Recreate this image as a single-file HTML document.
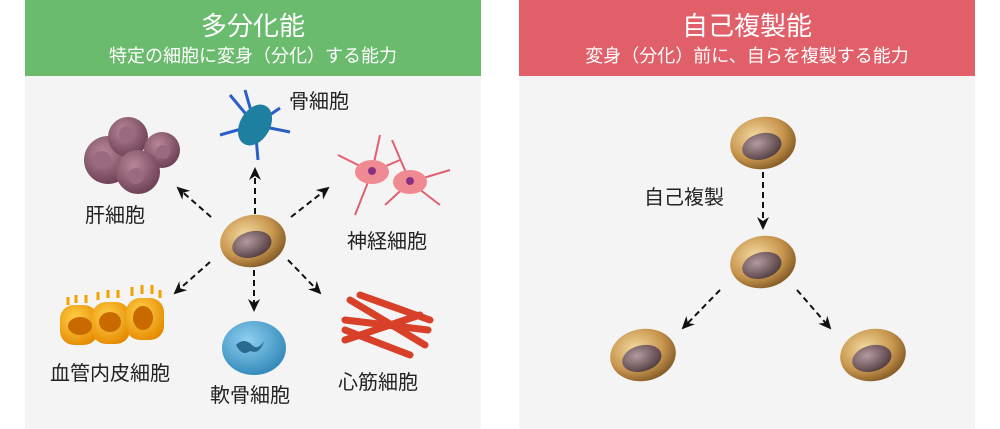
<!DOCTYPE html>
<html><head><meta charset="utf-8"><style>
body{margin:0;background:#fff;width:1000px;height:429px;overflow:hidden}
svg{display:block}
text{font-family:"Liberation Sans","Noto Sans CJK JP",sans-serif}
</style></head><body>
<svg width="1000" height="429" viewBox="0 0 1000 429">
<defs>
<radialGradient id="cell" cx="40%" cy="35%" r="70%"><stop offset="0" stop-color="#f3d9a0"/><stop offset="0.6" stop-color="#c9974f"/><stop offset="1" stop-color="#7d5522"/></radialGradient>
<radialGradient id="nuc" cx="40%" cy="35%" r="70%"><stop offset="0" stop-color="#b49aa0"/><stop offset="1" stop-color="#4e3a3c"/></radialGradient>
<radialGradient id="liv" cx="40%" cy="35%" r="70%"><stop offset="0" stop-color="#b9879a"/><stop offset="1" stop-color="#6a3d52"/></radialGradient>
<radialGradient id="blue" cx="40%" cy="35%" r="70%"><stop offset="0" stop-color="#8fd0f0"/><stop offset="1" stop-color="#2f86b8"/></radialGradient>
<radialGradient id="org" cx="40%" cy="35%" r="70%"><stop offset="0" stop-color="#ffd24a"/><stop offset="1" stop-color="#e58a00"/></radialGradient>
<marker id="ah" markerWidth="13" markerHeight="12" refX="11" refY="6" orient="auto" markerUnits="userSpaceOnUse"><path d="M0,0 L13,6 L0,12 L4,6z" fill="#111"/></marker>
<g id="sc"><ellipse cx="0" cy="0" rx="33" ry="26" fill="url(#cell)" transform="rotate(-10)"/><ellipse cx="-2" cy="3" rx="20" ry="13" fill="url(#nuc)" transform="rotate(-15)"/></g>
</defs>
<rect x="25" y="0" width="456" height="429" fill="#f4f4f4"/>
<rect x="25" y="0" width="456" height="76" fill="#6abb6e"/>
<text x="253" y="35" font-size="26" fill="#fff" text-anchor="middle">多分化能</text>
<text x="253" y="62" font-size="18" fill="#fff" text-anchor="middle">特定の細胞に変身（分化）する能力</text>
<rect x="519" y="0" width="456" height="429" fill="#f4f4f4"/>
<rect x="519" y="0" width="456" height="76" fill="#e15f69"/>
<text x="747" y="35" font-size="26" fill="#fff" text-anchor="middle">自己複製能</text>
<text x="747" y="62" font-size="18" fill="#fff" text-anchor="middle">変身（分化）前に、自らを複製する能力</text>

<g stroke="#111" stroke-width="2" stroke-dasharray="6,4" fill="none" marker-end="url(#ah)">
<line x1="255" y1="214" x2="255" y2="169"/>
<line x1="211" y1="217" x2="178" y2="188"/>
<line x1="291" y1="217" x2="328" y2="188"/>
<line x1="210" y1="262" x2="175" y2="293"/>
<line x1="254" y1="270" x2="254" y2="310"/>
<line x1="288" y1="260" x2="320" y2="293"/>
<line x1="763" y1="172" x2="763" y2="228"/>
<line x1="720" y1="290" x2="683" y2="328"/>
<line x1="797" y1="290" x2="830" y2="328"/>
</g>
<use href="#sc" x="253" y="241"/>
<use href="#sc" x="763" y="143"/>
<use href="#sc" x="763" y="262"/>
<use href="#sc" x="643" y="355"/>
<use href="#sc" x="873" y="355"/>

<g fill="url(#liv)"><circle cx="108" cy="160" r="24"/><circle cx="128" cy="137" r="20"/><circle cx="162" cy="150" r="18"/><circle cx="138" cy="172" r="22"/></g>
<g fill="#9a6a80"><circle cx="102" cy="160" r="9"/><circle cx="127" cy="134" r="8"/><circle cx="163" cy="152" r="7"/><circle cx="136" cy="176" r="8"/></g>
<g stroke="#2a5fc9" stroke-width="3" fill="none"><path d="M255 125 L230 95 M255 125 L280 108 M255 125 L220 135 M255 125 L290 132 M255 125 L258 160 M255 125 L245 90"/></g>
<ellipse cx="255" cy="125" rx="15" ry="22" fill="#1f7fa0" transform="rotate(30 255 125)"/>
<g stroke="#e06070" stroke-width="2" fill="none"><path d="M372 172 L338 155 M372 172 L380 135 M372 172 L355 215 M372 172 L400 160 M410 182 L392 140 M410 182 L450 170 M410 182 L440 205 M410 182 L385 205"/></g>
<ellipse cx="372" cy="172" rx="17" ry="12" fill="#f08a92"/><ellipse cx="410" cy="182" rx="17" ry="12" fill="#f08a92"/>
<circle cx="372" cy="171" r="4" fill="#8a3080"/><circle cx="410" cy="181" r="4" fill="#8a3080"/>
<g fill="url(#org)"><rect x="60" y="305" width="38" height="40" rx="14"/><rect x="92" y="302" width="38" height="42" rx="14"/><rect x="126" y="298" width="38" height="42" rx="14"/></g>
<g fill="#c96a00"><ellipse cx="80" cy="326" rx="12" ry="9"/><ellipse cx="110" cy="322" rx="11" ry="10"/><ellipse cx="143" cy="318" rx="10" ry="12"/></g>
<g stroke="#f3a000" stroke-width="3"><path d="M68 305v-8M76 303v-8M86 303v-8M98 300v-8M108 298v-8M118 298v-8M132 296v-9M142 294v-9M152 294v-9M160 298v-8"/></g>
<ellipse cx="254" cy="348" rx="32" ry="27" fill="url(#blue)"/>
<path d="M236 345 q8 -8 16 0 q6 6 12 -4 q-4 14 -14 10 q-8 6 -14 -6z" fill="#2a6a90"/>
<g stroke="#d9402a" stroke-width="7" stroke-linecap="round"><path d="M345 320 L428 330 M350 300 L425 345 M345 340 L420 315 M360 295 L430 320 M345 330 L410 355"/></g>

<g font-size="20" fill="#222">
<text x="289" y="108">骨細胞</text>
<text x="85" y="222">肝細胞</text>
<text x="347" y="248">神経細胞</text>
<text x="50" y="380">血管内皮細胞</text>
<text x="210" y="402">軟骨細胞</text>
<text x="338" y="389">心筋細胞</text>
<text x="644" y="204">自己複製</text>
</g>
</svg>
</body></html>
